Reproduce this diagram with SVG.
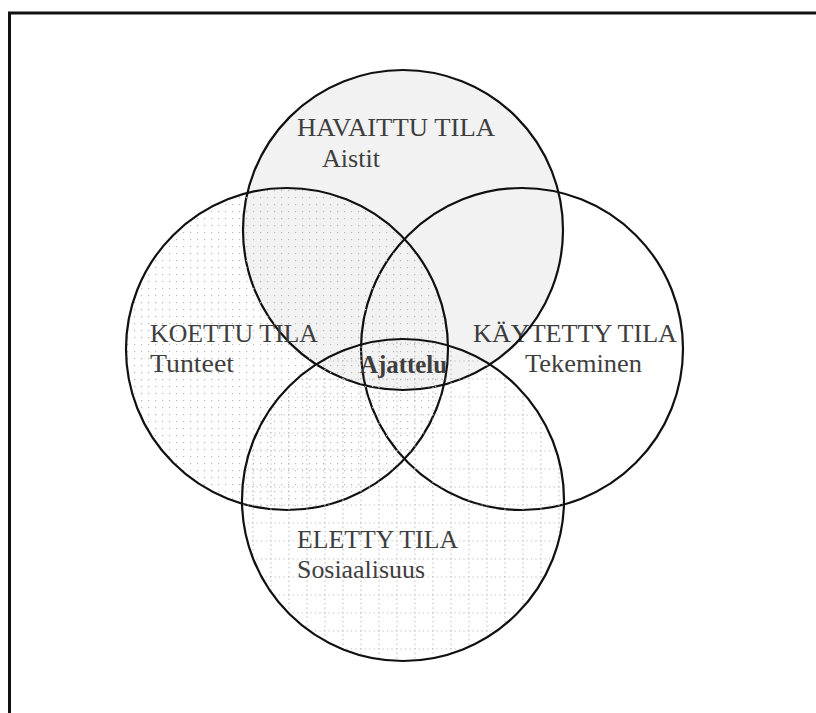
<svg xmlns="http://www.w3.org/2000/svg" width="816" height="713" viewBox="0 0 816 713">
  <defs>
    <pattern id="dots" width="7" height="7" patternUnits="userSpaceOnUse">
      <rect x="1" y="1" width="1.2" height="1.2" fill="#b8b8b8"/>
    </pattern>
    <pattern id="grid" width="18" height="18" patternUnits="userSpaceOnUse">
      <line x1="0" y1="1" x2="18" y2="1" stroke="#bdbdbd" stroke-width="1.2" stroke-dasharray="1.2 3.3"/>
      <line x1="1" y1="0" x2="1" y2="18" stroke="#bdbdbd" stroke-width="1.2" stroke-dasharray="1.2 3.3"/>
    </pattern>
  </defs>
  <style>
    .ring { stroke: #111; stroke-width: 2.2; }
    .t { font-family: "Liberation Serif", "Times New Roman", serif; font-size: 25px; fill: #3e3e3e; }
    .b { font-weight: bold; }
  </style>
  <rect x="0" y="0" width="816" height="713" fill="#fff"/>
  <rect x="9.5" y="13" width="830" height="730" fill="none" stroke="#111" stroke-width="3"/>

  <g id="kaytetty-tila">
    <circle class="ring" cx="522" cy="349" r="161" fill="none"/>
    <text class="t" x="473" y="342" textLength="204" lengthAdjust="spacingAndGlyphs">KÄYTETTY TILA</text>
    <text class="t" x="525" y="372" textLength="117" lengthAdjust="spacingAndGlyphs">Tekeminen</text>
  </g>

  <g id="havaittu-tila">
    <circle class="ring" cx="403" cy="230" r="160" fill="#000" fill-opacity="0.05"/>
    <text class="t" x="297" y="136" textLength="198" lengthAdjust="spacingAndGlyphs">HAVAITTU TILA</text>
    <text class="t" x="322" y="167" textLength="58" lengthAdjust="spacingAndGlyphs">Aistit</text>
  </g>

  <g id="koettu-tila">
    <circle class="ring" cx="287" cy="349" r="161" fill="url(#dots)"/>
    <text class="t" x="150" y="342" textLength="168" lengthAdjust="spacingAndGlyphs">KOETTU TILA</text>
    <text class="t" x="150" y="372" textLength="84" lengthAdjust="spacingAndGlyphs">Tunteet</text>
  </g>

  <g id="eletty-tila">
    <circle class="ring" cx="403" cy="500" r="161" fill="url(#grid)"/>
    <text class="t" x="297" y="548" textLength="161" lengthAdjust="spacingAndGlyphs">ELETTY TILA</text>
    <text class="t" x="297" y="578" textLength="128" lengthAdjust="spacingAndGlyphs">Sosiaalisuus</text>
  </g>

  <g id="ajattelu">
    <text class="t b" x="360" y="373" textLength="87" lengthAdjust="spacingAndGlyphs">Ajattelu</text>
  </g>

  <g id="connectors"/>
</svg>
